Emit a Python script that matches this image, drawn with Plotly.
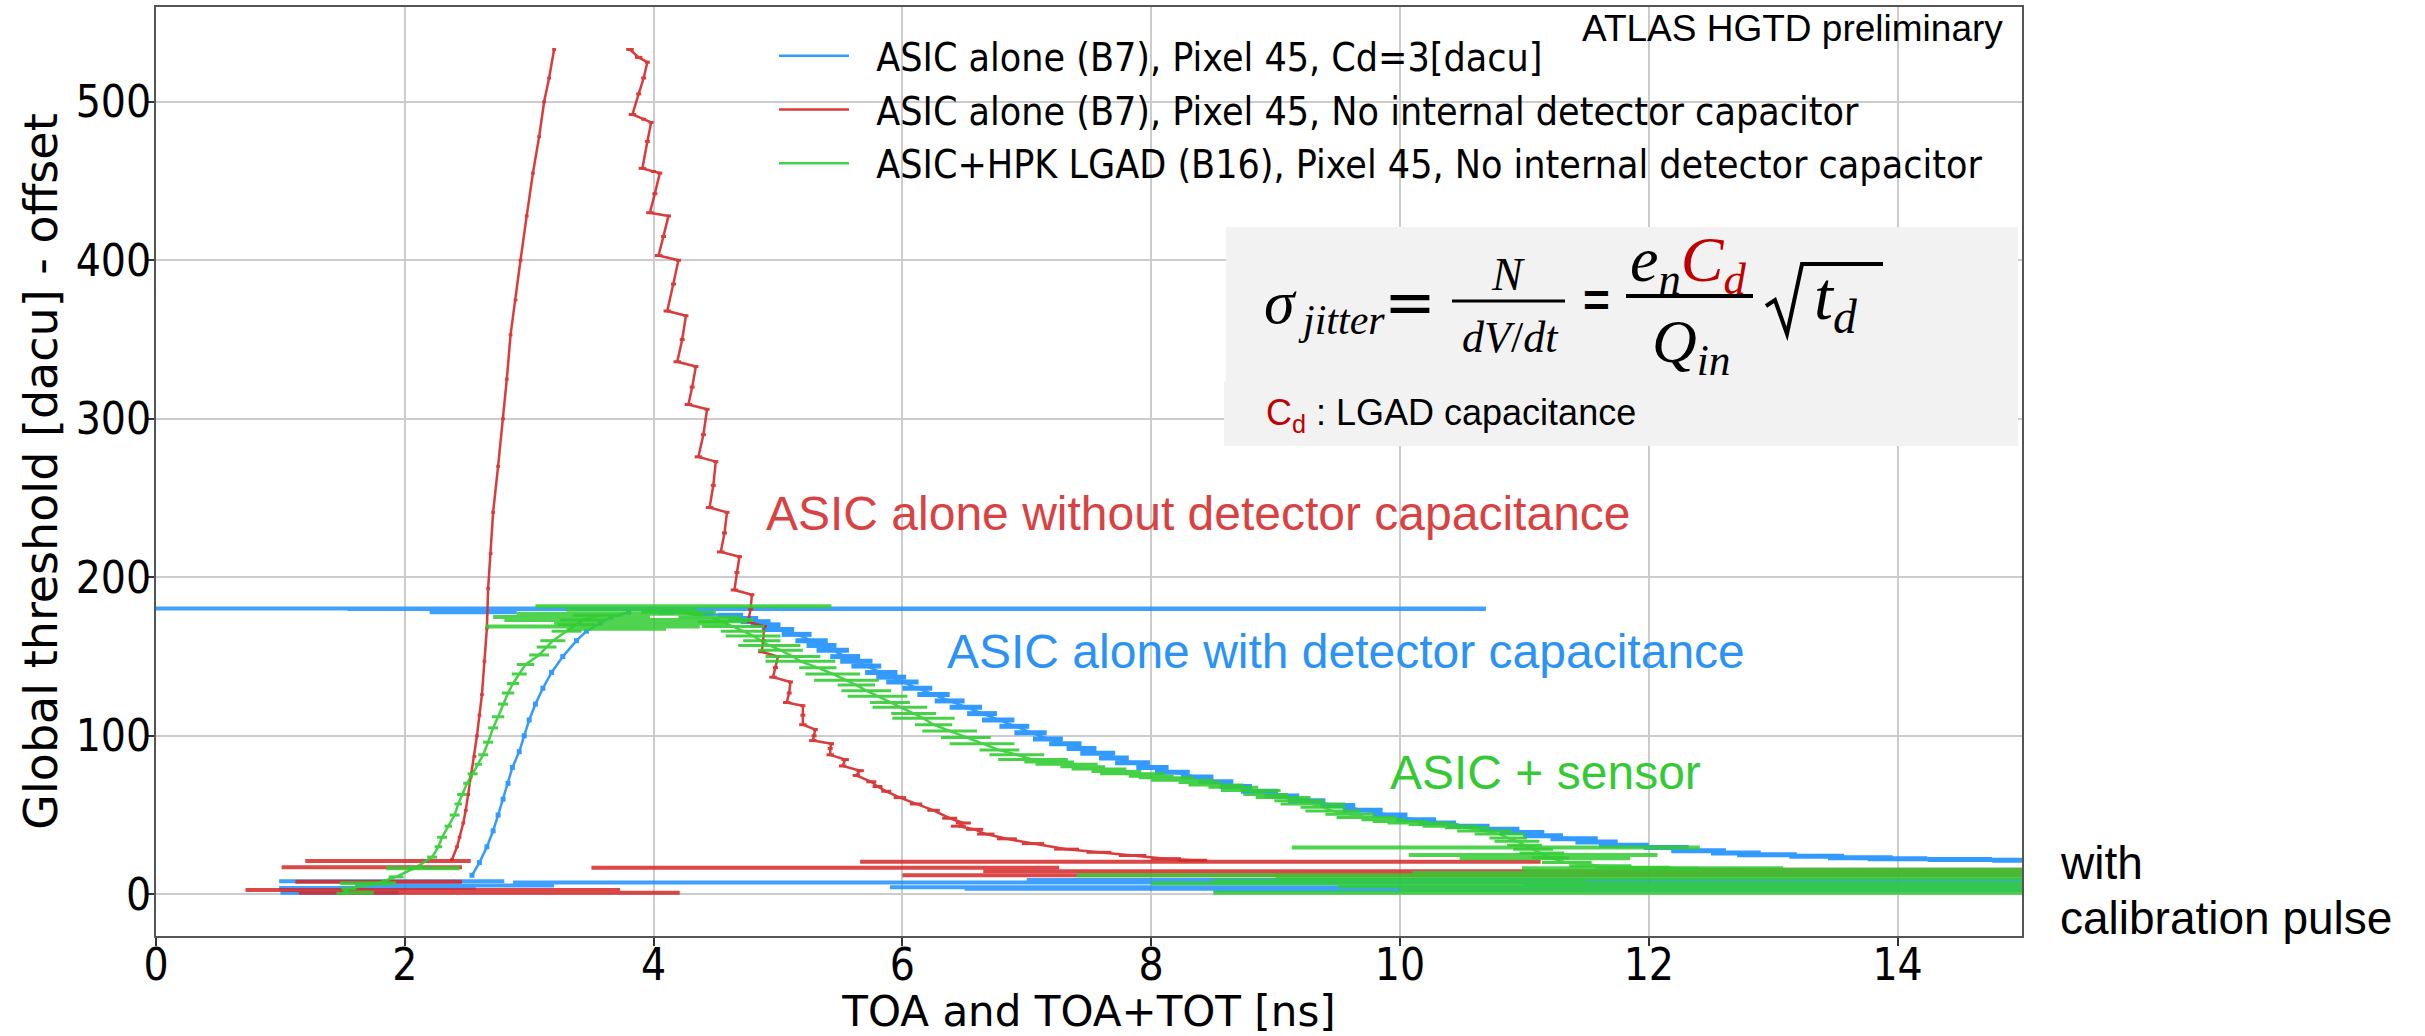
import plotly.graph_objects as go

# ---------------- data ----------------
BLUE = "#1e90ff"
RED = "#d62728"
GREEN = "#32cd32"

legend_labels = [
    "ASIC alone (B7), Pixel 45, Cd=3[dacu]",
    "ASIC alone (B7), Pixel 45, No internal detector capacitor",
    "ASIC+HPK LGAD (B16), Pixel 45, No internal detector capacitor",
]

# Blue: ASIC alone with Cd=3
blue_toa_y = [12, 20, 30, 40, 50, 60, 70, 80, 90, 100, 110, 120, 130, 140, 150, 160, 166, 171, 175, 178]
blue_toa_x = [2.54, 2.60, 2.66, 2.71, 2.75, 2.79, 2.83, 2.865, 2.92, 2.96, 3.00, 3.05, 3.11, 3.18, 3.27, 3.38, 3.46, 3.57, 3.66, 3.80]
blue_toa_err = [0.02] * 20

blue_tot_y = [178, 177, 176, 174, 172, 170, 167, 164, 160, 157, 154, 150, 147, 144, 140, 137, 134, 130, 126, 122,
              118, 114, 110, 106, 102, 98, 95, 92, 89, 86, 83, 80, 77, 74, 71, 68, 65, 62, 59, 56,
              53, 50, 47, 45, 43, 41, 39, 37, 35, 33, 31, 29.5, 27.5, 26, 25, 24, 23, 22.5, 22, 21.5]
blue_tot_x = [4.10, 4.40, 4.62, 4.72, 4.82, 4.90, 5.00, 5.15, 5.27, 5.35, 5.44, 5.54, 5.63, 5.71, 5.83, 5.91, 6.00, 6.12, 6.25, 6.38,
              6.51, 6.64, 6.77, 6.90, 7.03, 7.17, 7.31, 7.44, 7.57, 7.70, 7.85, 8.01, 8.17, 8.37, 8.52, 8.68, 8.87, 9.05, 9.25, 9.50,
              9.70, 9.92, 10.13, 10.30, 10.55, 10.80, 10.98, 11.15, 11.40, 11.58, 11.80, 12.14, 12.40, 12.70, 12.95, 13.35, 13.70, 14.00, 14.50, 15.00]
blue_tot_err = [0.06, 0.08, 0.10, 0.12, 0.12, 0.12, 0.13, 0.12, 0.13, 0.12, 0.13, 0.12, 0.13, 0.12, 0.13, 0.12, 0.13, 0.12, 0.13, 0.12,
                0.13, 0.12, 0.13, 0.12, 0.13, 0.12, 0.13, 0.12, 0.14, 0.12, 0.14, 0.13, 0.14, 0.13, 0.14, 0.13, 0.15, 0.14, 0.15, 0.14,
                0.16, 0.14, 0.16, 0.15, 0.17, 0.16, 0.18, 0.16, 0.19, 0.17, 0.20, 0.18, 0.22, 0.20, 0.24, 0.22, 0.26, 0.24, 0.26, 0.24]

blue_noise_y = [180.3, 180.0, 178, 8.2, 7.5, 4.0, 1.0, 9.0, 4.5, 2.5, 6.0, 5.5, 3.5]
blue_noise_x = [5.095, 6.115, 2.55, 1.895, 9.185, 1.78, 1.475, 11.25, 10.7, 12.0, 13.25, 2.4, 9.0]
blue_noise_err = [5.595, 4.575, 0.35, 0.905, 6.315, 0.79, 0.475, 4.25, 4.8, 3.5, 2.25, 0.8, 2.5]

# Red: ASIC alone, no internal detector capacitor
red_toa_y = [22, 30, 36, 45, 53, 63, 74, 87, 100, 113, 126, 147, 168, 193, 215, 241, 270, 300, 325, 353, 375, 400, 428, 455, 478, 500, 515, 533]
red_toa_x = [2.38, 2.42, 2.44, 2.47, 2.49, 2.51, 2.53, 2.56, 2.58, 2.60, 2.62, 2.64, 2.66, 2.67, 2.69, 2.71, 2.75, 2.79, 2.82, 2.85, 2.89, 2.93, 2.98, 3.03, 3.08, 3.12, 3.16, 3.20]
red_toa_err = [0.015] * 28

red_tot_y = [533, 528, 525, 515, 505, 492, 489, 487, 475, 458, 456, 455, 442, 430, 428, 415, 403, 400, 385, 368,
             365, 350, 336, 333, 320, 309, 306, 290, 276, 273, 258, 244, 241, 228, 216, 213, 203, 192, 189, 180,
             172, 169, 160, 153, 150, 143, 137, 134, 127, 121, 119, 113, 107, 104, 100, 97, 95, 92, 88, 85,
             81, 78, 75, 71, 68, 65, 61, 57, 53, 48, 45, 43, 41, 38, 35, 32, 28.5, 26.5, 24.5, 22.5, 21.5]
red_tot_x = [3.81, 3.88, 3.95, 3.92, 3.88, 3.83, 3.92, 3.98, 3.95, 3.91, 4.00, 4.05, 4.01, 3.97, 4.12, 4.08, 4.04, 4.20, 4.16, 4.11,
             4.26, 4.23, 4.19, 4.34, 4.31, 4.28, 4.43, 4.40, 4.36, 4.50, 4.48, 4.45, 4.59, 4.57, 4.54, 4.69, 4.67, 4.65, 4.79, 4.78,
             4.76, 4.89, 4.88, 4.87, 5.00, 4.98, 4.96, 5.10, 5.09, 5.07, 5.20, 5.20, 5.20, 5.30, 5.29, 5.28, 5.43, 5.42, 5.42, 5.54,
             5.52, 5.66, 5.63, 5.75, 5.80, 5.87, 5.98, 6.11, 6.25, 6.38, 6.49, 6.45, 6.58, 6.67, 6.84, 7.05, 7.32, 7.58, 7.85, 8.12, 8.33]
red_tot_err = [0.03, 0.03, 0.02, 0.02, 0.02, 0.03, 0.02, 0.02, 0.02, 0.03, 0.02, 0.02, 0.02, 0.03, 0.02, 0.02, 0.03, 0.02, 0.02, 0.03,
               0.02, 0.02, 0.03, 0.02, 0.02, 0.03, 0.02, 0.02, 0.03, 0.02, 0.02, 0.03, 0.02, 0.02, 0.03, 0.02, 0.02, 0.03, 0.02, 0.02,
               0.03, 0.02, 0.02, 0.03, 0.02, 0.02, 0.03, 0.02, 0.02, 0.03, 0.02, 0.02, 0.03, 0.02, 0.02, 0.03, 0.02, 0.02, 0.03, 0.03,
               0.03, 0.03, 0.03, 0.04, 0.04, 0.04, 0.05, 0.05, 0.05, 0.06, 0.06, 0.06, 0.07, 0.07, 0.08, 0.09, 0.10, 0.10, 0.11, 0.12, 0.12]

red_noise_y = [21, 17, 8, 2.7, 1.0, 16.8, 20.5, 14.5, 13.0, 15.5, 12.0]
red_noise_x = [1.865, 1.735, 1.79, 2.225, 2.68, 5.38, 8.395, 11.075, 12.25, 13.75, 10.5]
red_noise_err = [0.665, 0.725, 0.67, 1.505, 1.53, 1.88, 2.735, 4.425, 3.25, 1.75, 4.5]

# Green: ASIC + HPK LGAD
green_toa_y = [0.6, 3.6, 6.7, 11, 17, 23.5, 30, 36, 43, 50, 57, 63, 70, 76, 82, 88, 96, 105, 112, 120, 127, 133, 139, 145, 151, 156, 160, 166, 170, 173, 176]
green_toa_x = [1.50, 1.55, 1.77, 1.93, 2.09, 2.22, 2.27, 2.30, 2.35, 2.40, 2.43, 2.46, 2.50, 2.545, 2.59, 2.63, 2.67, 2.71, 2.75, 2.79, 2.83, 2.87, 2.92, 2.97, 3.08, 3.14, 3.19, 3.30, 3.38, 3.43, 3.55]
green_toa_err = [0.05, 0.06, 0.08, 0.06, 0.05, 0.04, 0.03, 0.04, 0.03, 0.04, 0.03, 0.04, 0.03, 0.04, 0.03, 0.04, 0.04, 0.04, 0.05, 0.04, 0.05, 0.05, 0.06, 0.07, 0.08, 0.08, 0.10, 0.12, 0.15, 0.18, 0.20]

green_tot_y = [178, 175, 172, 169, 166, 163, 160, 157, 154, 150, 147, 143, 139, 135, 132, 128.5, 125, 121, 118, 114,
               111, 107, 103, 99, 95, 91, 88, 85, 83.5, 82, 80.5, 79, 77.5, 76, 74.5, 73.5, 72, 70.5, 69, 67.5,
               65.5, 63, 61, 59, 57, 55, 52.5, 50.5, 48.5, 47, 46, 45, 44, 43, 42, 40, 38, 35.5, 33.5, 31,
               28.5, 26, 23, 20, 18, 17, 16.5]
green_tot_x = [4.20, 4.45, 4.55, 4.64, 4.72, 4.80, 4.87, 4.93, 5.02, 5.12, 5.18, 5.32, 5.44, 5.55, 5.63, 5.71, 5.80, 5.90, 5.98, 6.09,
               6.17, 6.25, 6.38, 6.51, 6.64, 6.78, 6.92, 7.05, 7.18, 7.32, 7.45, 7.58, 7.72, 7.85, 8.00, 8.12, 8.25, 8.39, 8.52, 8.66,
               8.80, 8.92, 9.06, 9.19, 9.30, 9.38, 9.46, 9.60, 9.73, 9.87, 10.00, 10.15, 10.27, 10.40, 10.54, 10.68, 10.80, 10.87, 10.94, 11.00,
               11.07, 11.14, 11.21, 11.34, 11.61, 11.87, 12.10]
green_tot_err = [0.30, 0.25, 0.20, 0.25, 0.18, 0.22, 0.15, 0.25, 0.18, 0.22, 0.28, 0.15, 0.22, 0.26, 0.15, 0.20, 0.24, 0.16, 0.22, 0.18,
                 0.25, 0.15, 0.22, 0.20, 0.26, 0.16, 0.22, 0.28, 0.20, 0.25, 0.18, 0.22, 0.20, 0.26, 0.18, 0.22, 0.25, 0.17, 0.22, 0.20,
                 0.24, 0.18, 0.22, 0.20, 0.26, 0.18, 0.22, 0.20, 0.24, 0.18, 0.22, 0.25, 0.20, 0.22, 0.18, 0.22, 0.20, 0.15, 0.18, 0.14,
                 0.16, 0.18, 0.15, 0.20, 0.25, 0.30, 0.30]

green_noise_y = [181.7, 179.5, 177, 175, 173, 171, 169, 167.5, 29.5, 24.8, 22.7, 16.4, 15.5, 12, 10, 7, 5, 3, 1, 16.5, 7, 1, 13.5, 8.5]
green_noise_x = [4.24, 3.825, 3.65, 3.34, 3.8, 3.9, 3.51, 3.7, 10.77, 11.07, 11.165, 12.03, 13.25, 11.45, 12.25, 11.75, 12.5, 12.75, 12.0, 2.145, 1.705, 1.625, 12.8, 10.0]
green_noise_err = [1.19, 0.525, 0.75, 0.63, 1.0, 0.7, 0.86, 0.4, 1.64, 1.0, 0.685, 1.05, 2.25, 4.05, 3.25, 3.75, 3.0, 2.75, 3.5, 0.295, 0.225, 0.125, 2.7, 1.5]

x_ticks = [0, 2, 4, 6, 8, 10, 12, 14]
y_ticks = [0, 100, 200, 300, 400, 500]

# ---------------- geometry helpers (layout only) ----------------
W, H = 2425, 1036
L, R, T, B = 156, 2022, 7, 936


def px(X):
    return (X - L) / (R - L)


def py(Y):
    return (B - Y) / (B - T)


fig = go.Figure()
LEG_PAD = "\u00a0\u00a0"


def add_series(name, color, toa_x, toa_y, toa_e, tot_x, tot_y, tot_e, nx, ny, ne, bar_thick):
    grp = name
    fig.add_trace(go.Scatter(
        x=toa_x, y=toa_y, mode="lines", name=LEG_PAD + name, legendgroup=grp, showlegend=True,
        line=dict(color=color, width=2.5), opacity=0.9,
        error_x=dict(type="data", array=toa_e, symmetric=True, width=0, thickness=bar_thick, color=color),
    ))
    fig.add_trace(go.Scatter(
        x=tot_x, y=tot_y, mode="lines", name=name, legendgroup=grp, showlegend=False,
        line=dict(color=color, width=2.5), opacity=0.9,
        error_x=dict(type="data", array=tot_e, symmetric=True, width=0, thickness=bar_thick, color=color),
    ))
    fig.add_trace(go.Scatter(
        x=nx, y=ny, mode="markers", name=name, legendgroup=grp, showlegend=False,
        marker=dict(size=0.1, color=color), opacity=0.85,
        error_x=dict(type="data", array=ne, symmetric=True, width=0, thickness=4, color=color),
    ))


add_series(legend_labels[0], BLUE, blue_toa_x, blue_toa_y, blue_toa_err,
           blue_tot_x, blue_tot_y, blue_tot_err, blue_noise_x, blue_noise_y, blue_noise_err, 5)
add_series(legend_labels[1], RED, red_toa_x, red_toa_y, red_toa_err,
           red_tot_x, red_tot_y, red_tot_err, red_noise_x, red_noise_y, red_noise_err, 3)
add_series(legend_labels[2], GREEN, green_toa_x, green_toa_y, green_toa_err,
           green_tot_x, green_tot_y, green_tot_err, green_noise_x, green_noise_y, green_noise_err, 3)

annotations = []
shapes = []

# Formula box
shapes.append(dict(type="rect", xref="paper", yref="paper", x0=px(1226), x1=px(2018), y0=py(446), y1=py(227),
                   fillcolor="#f2f2f2", line=dict(width=0), layer="above"))
shapes.append(dict(type="rect", xref="paper", yref="paper", x0=px(1224), x1=px(2018), y0=py(446), y1=py(381),
                   fillcolor="#f2f2f2", line=dict(width=0), layer="above"))

SERIF = "Liberation Serif"
SANS = "Liberation Sans"
COND = "DejaVu Sans Condensed"
DARKRED = "#c00000"


def ann(text, X, Y, size, family=SERIF, color="black", xanchor="left", yanchor="middle"):
    annotations.append(dict(text=text, x=px(X), y=py(Y), xref="paper", yref="paper", showarrow=False,
                            xanchor=xanchor, yanchor=yanchor, font=dict(family=family, size=size, color=color)))


ann("<i>σ</i>", 1262, 302, 62)
ann("<i>jitter</i>", 1296, 320, 42)
ann("=", 1410, 302, 62, family="DejaVu Sans", xanchor="center")
ann("<i>N</i>", 1508, 274, 46, xanchor="center")
shapes.append(dict(type="line", xref="paper", yref="paper", x0=px(1452), x1=px(1565), y0=py(301), y1=py(301),
                   line=dict(color="black", width=3), layer="above"))
ann("<i>dV</i>/<i>dt</i>", 1510, 337, 44, xanchor="center")
ann("<b>=</b>", 1596, 300, 46, family=SANS, xanchor="center")
ann("<i>e<sub>n</sub></i><span style='color:" + DARKRED + "'><i>C<sub>d</sub></i></span>", 1688, 264, 64, xanchor="center")
shapes.append(dict(type="line", xref="paper", yref="paper", x0=px(1626), x1=px(1753), y0=py(296), y1=py(296),
                   line=dict(color="black", width=4), layer="above"))
ann("<i>Q<sub>in</sub></i>", 1691, 345, 62, xanchor="center")
shapes.append(dict(type="path", xref="paper", yref="paper",
                   path="M {:.5f} {:.5f} L {:.5f} {:.5f} L {:.5f} {:.5f} L {:.5f} {:.5f} L {:.5f} {:.5f}".format(
                       px(1766), py(306), px(1775), py(300), px(1787), py(334), px(1802), py(264), px(1883), py(264)),
                   line=dict(color="black", width=4), layer="above"))
ann("<i>t<sub>d</sub></i>", 1812, 300, 68)
ann("<span style='color:" + DARKRED + "'>C<sub>d</sub></span> : LGAD capacitance", 1264, 415, 36, family=SANS)

# Text labels
ann("ATLAS HGTD preliminary", 2005, 28, 37, family=SANS, xanchor="right")
ann("ASIC alone without detector capacitance", 764, 513, 48, family=SANS, color="#d94242")
ann("ASIC alone with detector capacitance", 945, 651, 48, family=SANS, color="#2b93f5")
ann("ASIC + sensor", 1388, 772, 48, family=SANS, color="#36c936")
ann("with", 2058, 863, 46, family=SANS)
ann("calibration pulse", 2058, 918, 46, family=SANS)

fig.update_layout(
    width=W, height=H,
    margin=dict(l=L, r=W - R, t=T, b=H - B, autoexpand=False),
    paper_bgcolor="white", plot_bgcolor="white",
    font=dict(family=COND, size=44, color="black"),
    showlegend=True,
    legend=dict(x=px(774), y=py(24), xanchor="left", yanchor="top", bgcolor="rgba(0,0,0,0)",
                font=dict(family=COND, size=39, color="black"), itemwidth=70,
                tracegroupgap=0, borderwidth=0),
    annotations=annotations,
    shapes=shapes,
    xaxis=dict(range=[0, 15], tickvals=x_ticks, ticktext=[str(v) for v in x_ticks],
               showgrid=True, gridcolor="#cccccc", gridwidth=1.5, zeroline=False,
               showline=True, linecolor="#555555", linewidth=2, mirror=True,
               ticks="outside", ticklen=8, tickwidth=2, tickcolor="#333333",
               tickfont=dict(family=COND, size=44), ticklabelstandoff=-19,
               title=dict(text="TOA and TOA+TOT [ns]", font=dict(family="DejaVu Sans", size=42), standoff=16),
               automargin=False),
    yaxis=dict(range=[-26.3, 559.8], tickvals=y_ticks, ticktext=[str(v) for v in y_ticks],
               showgrid=True, gridcolor="#cccccc", gridwidth=1.5, zeroline=False,
               showline=True, linecolor="#555555", linewidth=2, mirror=True,
               ticks="outside", ticklen=8, tickwidth=2, tickcolor="#333333",
               tickfont=dict(family=COND, size=44), ticklabelstandoff=-14,
               title=dict(text="Global threshold [dacu] - offset", font=dict(family="DejaVu Sans", size=46), standoff=4),
               automargin=False),
)

fig.write_html("out.html")
